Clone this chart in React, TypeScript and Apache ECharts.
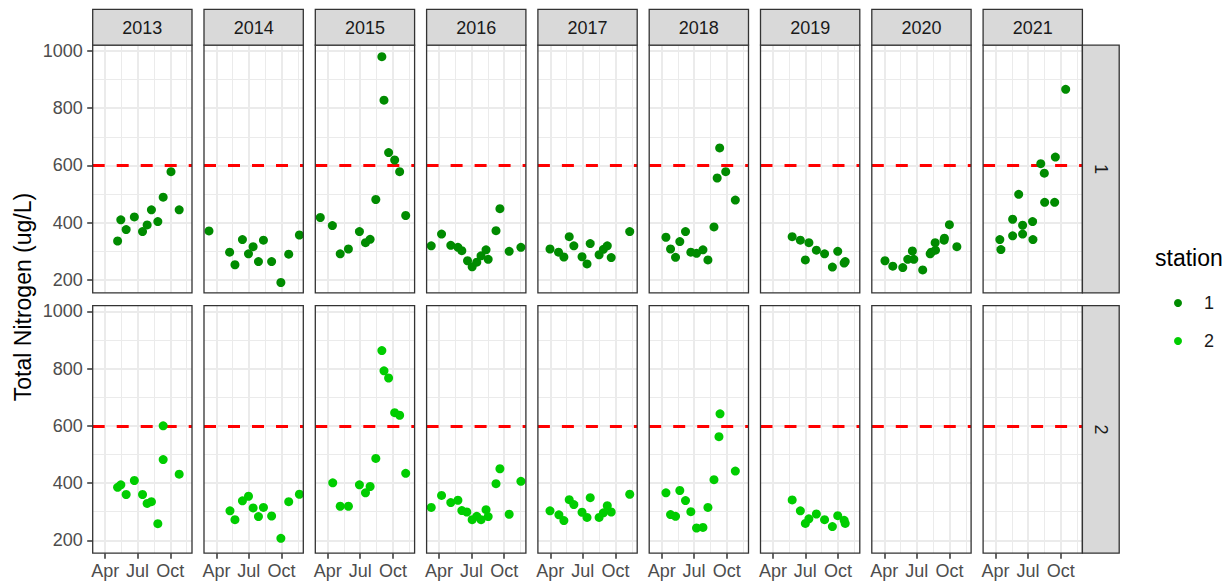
import React, { useEffect, useRef } from "react";
import * as echarts from "echarts";

// ---------- data (x = day of year, y = total nitrogen ug/L) ----------
const years = [2013, 2014, 2015, 2016, 2017, 2018, 2019, 2020, 2021];
const stations = ["1", "2"];
const stationColors = ["#008B00", "#00CD00"];
const monthTicks = [91, 182, 274];
const monthLabels = ["Apr", "Jul", "Oct"];
const xMinorBreaks = [136.5, 228, 320];
const yTicks = [200, 400, 600, 800, 1000];
const yMinorBreaks = [300, 500, 700, 900];
const threshold = 600;
const yTitle = "Total Nitrogen (ug/L)";
const legendTitle = "station";

const st1_2013 = [[126, 336], [135, 410], [150, 376], [173, 420], [196, 369], [209, 392], [221, 445], [239, 404], [254, 489], [276, 578], [299, 445]];
const st1_2014 = [[70, 371], [128, 297], [143, 253], [164, 341], [181, 291], [194, 316], [209, 264], [223, 339], [246, 264], [272, 191], [294, 290], [324, 357]];
const st1_2015 = [[70, 418], [104, 390], [126, 291], [149, 308], [180, 369], [197, 330], [210, 342], [226, 481], [243, 980], [249, 828], [262, 645], [279, 619], [293, 578], [310, 425]];
const st1_2016 = [[69, 319], [98, 360], [124, 321], [144, 314], [155, 302], [171, 267], [184, 246], [197, 262], [209, 284], [223, 305], [229, 272], [251, 372], [262, 449], [288, 300], [321, 314]];
const st1_2017 = [[90, 308], [114, 297], [129, 280], [144, 351], [157, 319], [180, 281], [194, 256], [203, 327], [228, 288], [240, 307], [251, 319], [262, 278], [314, 369]];
const st1_2018 = [[103, 349], [116, 308], [130, 279], [142, 334], [158, 369], [173, 297], [189, 293], [207, 305], [221, 270], [238, 385], [247, 556], [254, 661], [271, 578], [298, 479]];
const st1_2019 = [[145, 351], [168, 339], [182, 270], [192, 330], [213, 304], [236, 291], [258, 245], [273, 300], [291, 259], [294, 264]];
const st1_2020 = [[93, 267], [115, 248], [143, 243], [157, 272], [170, 301], [174, 272], [199, 235], [220, 291], [223, 297], [234, 330], [235, 304], [259, 339], [260, 346], [274, 393], [295, 316]];
const st1_2021 = [[103, 341], [106, 306], [139, 412], [139, 354], [156, 499], [167, 391], [167, 360], [195, 404], [196, 341], [218, 606], [228, 573], [229, 471], [257, 471], [259, 629], [288, 866]];

const st2_2013 = [[126, 385], [135, 394], [150, 360], [173, 409], [196, 360], [209, 329], [221, 335], [239, 258], [254, 600], [254, 482], [299, 431]];
const st2_2014 = [[129, 303], [143, 272], [164, 338], [181, 354], [194, 313], [209, 283], [223, 315], [246, 285], [272, 207], [294, 335], [324, 361]];
const st2_2015 = [[105, 401], [126, 319], [149, 319], [180, 394], [197, 366], [210, 388], [226, 486], [243, 863], [249, 792], [262, 767], [279, 646], [293, 637], [310, 434]];
const st2_2016 = [[69, 315], [98, 357], [124, 332], [144, 340], [155, 304], [169, 299], [184, 272], [197, 284], [209, 272], [223, 307], [229, 283], [251, 398], [262, 450], [288, 291], [321, 406]];
const st2_2017 = [[90, 303], [115, 289], [129, 269], [144, 342], [157, 325], [180, 298], [194, 280], [203, 349], [228, 280], [240, 296], [251, 321], [262, 299], [314, 361]];
const st2_2018 = [[103, 366], [116, 290], [130, 284], [142, 374], [158, 339], [173, 300], [189, 243], [207, 245], [221, 315], [238, 412], [252, 562], [255, 642], [298, 442]];
const st2_2019 = [[145, 341], [168, 303], [182, 259], [192, 275], [213, 292], [236, 272], [258, 248], [273, 286], [291, 270], [294, 259]];
const st2_2020: number[][] = [];
const st2_2021: number[][] = [];

const station1 = [st1_2013, st1_2014, st1_2015, st1_2016, st1_2017, st1_2018, st1_2019, st1_2020, st1_2021];
const station2 = [st2_2013, st2_2014, st2_2015, st2_2016, st2_2017, st2_2018, st2_2019, st2_2020, st2_2021];
const byStation = [station1, station2];

// ---------- layout ----------
const FONT = "'Liberation Sans', Arial, sans-serif";
const X_MIN = 56, X_MAX = 335;
const Y_MIN = 155, Y_MAX = 1020;
const P_LEFT0 = 92.7, P_STEP = 111.3, P_W = 99.3, P_H = 247.6;
const ROW_TOPS = [45.2, 305.6];
const STRIP_TOP = 9.4;
const STRIP_R_W = 36.8;

function buildOption() {
  const grid: any[] = [];
  const xAxis: any[] = [];
  const yAxis: any[] = [];
  const series: any[] = [];
  const graphic: any[] = [];

  const gridLines = [
    ...xMinorBreaks.map((v) => ({ xAxis: v, lineStyle: { color: "#EBEBEB", width: 1, type: "solid" } })),
    ...yMinorBreaks.map((v) => ({ yAxis: v, lineStyle: { color: "#EBEBEB", width: 1, type: "solid" } })),
    ...monthTicks.map((v) => ({ xAxis: v, lineStyle: { color: "#EBEBEB", width: 2, type: "solid" } })),
    ...yTicks.map((v) => ({ yAxis: v, lineStyle: { color: "#EBEBEB", width: 2, type: "solid" } })),
    { yAxis: threshold, lineStyle: { color: "#FF0000", width: 3, type: [12, 12] } },
  ];

  for (let r = 0; r < 2; r++) {
    for (let c = 0; c < years.length; c++) {
      const idx = r * years.length + c;
      const left = P_LEFT0 + c * P_STEP;
      const top = ROW_TOPS[r];
      grid.push({ left, top, width: P_W, height: P_H, containLabel: false });
      xAxis.push({
        gridIndex: idx,
        type: "value",
        min: X_MIN,
        max: X_MAX,
        axisLine: { show: false },
        splitLine: { show: false },
        axisTick: {
          show: r === 1,
          customValues: monthTicks,
          length: 5.5,
          lineStyle: { color: "#333333", width: 1.5 },
        },
        axisLabel: {
          show: r === 1,
          customValues: monthTicks,
          formatter: (v: number) => {
            const i = monthTicks.indexOf(v);
            return i >= 0 ? monthLabels[i] : "";
          },
          fontSize: 18,
          fontFamily: FONT,
          color: "#4D4D4D",
          margin: 9,
        },
      });
      yAxis.push({
        gridIndex: idx,
        type: "value",
        min: Y_MIN,
        max: Y_MAX,
        axisLine: { show: false },
        splitLine: { show: false },
        axisTick: {
          show: c === 0,
          customValues: yTicks,
          length: 5.5,
          lineStyle: { color: "#333333", width: 1.5 },
        },
        axisLabel: {
          show: c === 0,
          customValues: yTicks,
          formatter: (v: number) => String(v),
          fontSize: 18,
          fontFamily: FONT,
          color: "#4D4D4D",
          margin: 10,
        },
      });
      series.push({
        type: "scatter",
        name: stations[r],
        xAxisIndex: idx,
        yAxisIndex: idx,
        data: byStation[r][c],
        symbolSize: 9,
        itemStyle: { color: stationColors[r], opacity: 1 },
        z: 10,
        silent: true,
        markLine: {
          silent: true,
          symbol: "none",
          animation: false,
          label: { show: false },
          emphasis: { disabled: true },
          data: gridLines,
        },
      });
      // panel border
      graphic.push({
        type: "rect",
        z: 100,
        shape: { x: left, y: top, width: P_W, height: P_H },
        style: { fill: "none", stroke: "#333333", lineWidth: 1.3 },
        silent: true,
      });
      // top strips
      if (r === 0) {
        graphic.push({
          type: "rect",
          z: 100,
          shape: { x: left, y: STRIP_TOP, width: P_W, height: top - STRIP_TOP },
          style: { fill: "#D9D9D9", stroke: "#333333", lineWidth: 1.3 },
          silent: true,
        });
        graphic.push({
          type: "text",
          z: 101,
          x: left + P_W / 2,
          y: (STRIP_TOP + top) / 2 + 0.5,
          style: {
            text: String(years[c]),
            fill: "#1A1A1A",
            font: `18px ${FONT}`,
            align: "center",
            verticalAlign: "middle",
            textAlign: "center",
            textVerticalAlign: "middle",
          },
          silent: true,
        });
      }
      // right strips
      if (c === years.length - 1) {
        const sx = left + P_W;
        graphic.push({
          type: "rect",
          z: 100,
          shape: { x: sx, y: top, width: STRIP_R_W, height: P_H },
          style: { fill: "#D9D9D9", stroke: "#333333", lineWidth: 1.3 },
          silent: true,
        });
        graphic.push({
          type: "text",
          z: 101,
          x: sx + STRIP_R_W / 2,
          y: top + P_H / 2,
          rotation: -Math.PI / 2,
          style: {
            text: stations[r],
            fill: "#1A1A1A",
            font: `18px ${FONT}`,
            align: "center",
            verticalAlign: "middle",
            textAlign: "center",
            textVerticalAlign: "middle",
          },
          silent: true,
        });
      }
    }
  }

  // y axis title
  graphic.push({
    type: "text",
    z: 101,
    x: 23,
    y: 297,
    rotation: Math.PI / 2,
    style: {
      text: yTitle,
      fill: "#000000",
      font: `23px ${FONT}`,
      align: "center",
      verticalAlign: "middle",
      textAlign: "center",
      textVerticalAlign: "middle",
    },
    silent: true,
  });
  // legend title
  graphic.push({
    type: "text",
    z: 101,
    x: 1155,
    y: 258,
    style: {
      text: legendTitle,
      fill: "#000000",
      font: `23px ${FONT}`,
      align: "left",
      verticalAlign: "middle",
      textAlign: "left",
      textVerticalAlign: "middle",
    },
    silent: true,
  });

  return {
    animation: false,
    backgroundColor: "#FFFFFF",
    textStyle: { fontFamily: FONT },
    grid,
    xAxis,
    yAxis,
    series,
    graphic,
    legend: {
      data: stations,
      orient: "vertical",
      left: 1169,
      top: 289,
      itemWidth: 8,
      itemHeight: 8,
      itemGap: 20,
      icon: "circle",
      selectedMode: false,
      textStyle: {
        fontSize: 18,
        fontFamily: FONT,
        color: "#1A1A1A",
        padding: [0, 0, 0, 17],
      },
    },
  };
}

export default function App() {
  const ref = useRef<HTMLDivElement>(null);
  useEffect(() => {
    if (!ref.current) return;
    const chart = echarts.init(ref.current, null, { renderer: "svg" });
    chart.setOption(buildOption() as any);
    return () => chart.dispose();
  }, []);
  return (
    <div
      ref={ref}
      style={{ position: "fixed", left: 0, top: 0, width: 1232, height: 582, background: "#fff" }}
    />
  );
}
